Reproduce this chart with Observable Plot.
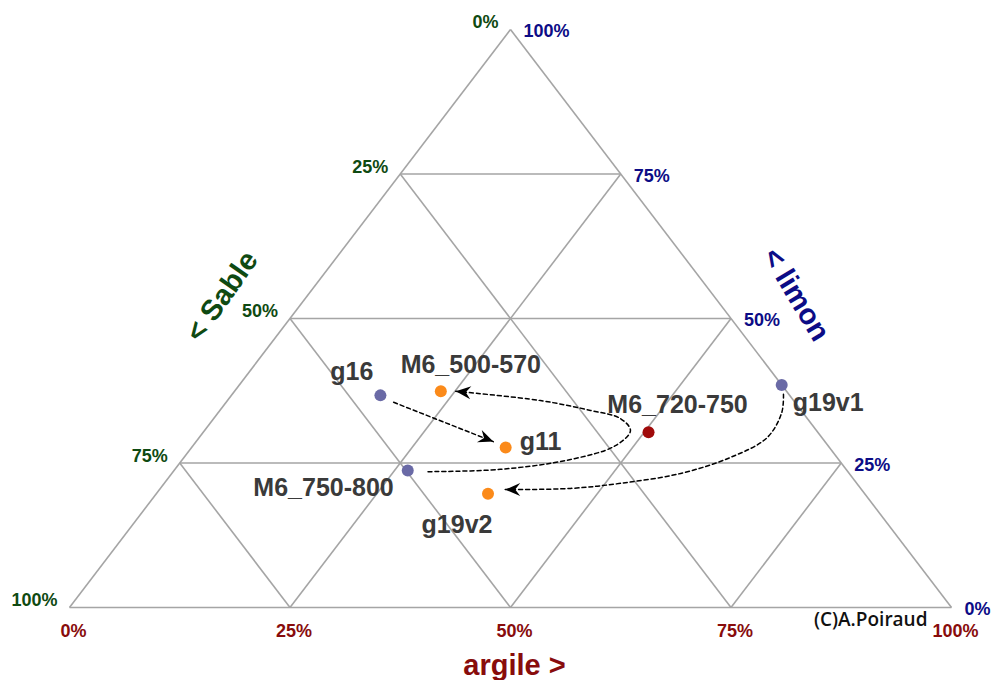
<!DOCTYPE html>
<html>
<head>
<meta charset="utf-8">
<script src="https://cdn.jsdelivr.net/npm/d3@7"></script>
<script src="https://cdn.jsdelivr.net/npm/@observablehq/plot@0.6"></script>
<style>
  html, body { margin: 0; padding: 0; background: #fff; }
  #chart svg { display: block; }
</style>
</head>
<body>
<div id="chart"></div>
<script>
// ---- Data (percentages) ----
const samples   = ["g16", "M6_500-570", "g11", "M6_720-750", "g19v1", "M6_750-800", "g19v2"];
const argile    = [16.9, 23.4, 35.6, 50.5, 61.5, 26.5, 37.6];
const limon     = [36.7, 37.4, 27.7, 30.3, 38.5, 23.7, 19.7];
const groupe    = ["départ", "arrivée", "arrivée", "M6_720-750", "départ", "départ", "arrivée"];

const tickValues = [0, 25, 50, 75, 100];

// dashed arrows (way-points in argile / limon %)
const arrowId     = ["a", "a",
                     "b", "b", "b", "b", "b", "b", "b", "b", "b",
                     "c", "c", "c", "c", "c", "c", "c", "c"];
const arrowArgile = [19.0, 33.7,
                     28.9, 36.9, 44.0, 47.9, 48.3, 46.1, 42.0, 35.5, 25.1,
                     62.5, 63.9, 64.4, 62.0, 57.7, 51.8, 46.5, 39.2];
const arrowLimon  = [35.5, 28.7,
                     23.5, 23.9, 25.6, 28.0, 30.6, 32.7, 34.1, 35.8, 37.4,
                     36.9, 33.7, 29.4, 26.0, 23.2, 21.5, 20.6, 20.4];

// ---- Layout / styles ----
const green = "#0f4a12", blue = "#0c0c86", red = "#880c0c";
const labelPlacement = {
  "g16":        {anchor: "end",    dx: -7,  dy: -15},
  "M6_500-570": {anchor: "middle", dx: 30,  dy: -18},
  "g11":        {anchor: "start",  dx: 14,  dy: 3},
  "M6_720-750": {anchor: "middle", dx: 29,  dy: -19},
  "g19v1":      {anchor: "start",  dx: 11,  dy: 26},
  "M6_750-800": {anchor: "end",    dx: -14, dy: 25},
  "g19v2":      {anchor: "middle", dx: -31, dy: 39}
};

// ---- Build tables ----
const X = (a, l) => (a + l / 2) / 100;
const Y = (a, l) => l / 100;

const points = samples.map((name, i) => ({name, a: argile[i], l: limon[i], g: groupe[i]}));
const arrows = arrowId.map((id, i) => ({id, a: arrowArgile[i], l: arrowLimon[i]}));

const grid = [];
for (const t of tickValues.filter(t => t < 100)) {
  grid.push({a1: 0, l1: t, a2: 100 - t, l2: t});       // constant limon
  grid.push({a1: t, l1: 0, a2: t, l2: 100 - t});       // constant argile
  grid.push({a1: 100 - t, l1: 0, a2: 0, l2: 100 - t}); // constant sable
}

const sableTicks  = tickValues.map(s => ({a: 0, l: 100 - s, text: s + "%"}));
const limonTicks  = tickValues.map(v => ({a: 100 - v, l: v, text: v + "%"}));
const argileTicks = tickValues.map(v => ({a: v, l: 0, text: v + "%"}));

function arrowHead(color, context) {
  const doc = context && context.document ? context.document : document;
  const m = doc.createElementNS("http://www.w3.org/2000/svg", "marker");
  m.setAttribute("viewBox", "-16 -8 18 16");
  m.setAttribute("markerWidth", 18);
  m.setAttribute("markerHeight", 16);
  m.setAttribute("markerUnits", "userSpaceOnUse");
  m.setAttribute("refX", 0);
  m.setAttribute("refY", 0);
  m.setAttribute("orient", "auto");
  const p = doc.createElementNS("http://www.w3.org/2000/svg", "path");
  p.setAttribute("d", "M0,0L-15,-6.5L-10,0L-15,6.5Z");
  p.setAttribute("fill", "#000");
  p.setAttribute("stroke", "none");
  m.appendChild(p);
  return m;
}

const labelMarks = points.map(p => {
  const o = labelPlacement[p.name];
  return Plot.text([p], {
    x: d => X(d.a, d.l), y: d => Y(d.a, d.l), text: "name",
    textAnchor: o.anchor, lineAnchor: "bottom", dx: o.dx, dy: o.dy,
    fontSize: 25, fontWeight: "bold", fill: "#3a3a3a"
  });
});

const chart = Plot.plot({
  width: 994,
  height: 680,
  marginLeft: 69, marginRight: 43, marginTop: 29, marginBottom: 73,
  x: {domain: [0, 1], axis: null},
  y: {domain: [0, 1], axis: null},
  color: {domain: ["départ", "arrivée", "M6_720-750"], range: ["#6a6aa6", "#fb8a1a", "#a00a0a"]},
  style: {fontFamily: "'Liberation Sans', Arial, sans-serif", background: "#fff"},
  marks: [
    Plot.link(grid, {
      x1: d => X(d.a1, d.l1), y1: d => Y(d.a1, d.l1),
      x2: d => X(d.a2, d.l2), y2: d => Y(d.a2, d.l2),
      stroke: "#a5a5a5", strokeWidth: 1.6
    }),
    Plot.line(arrows, {
      x: d => X(d.a, d.l), y: d => Y(d.a, d.l), z: "id",
      curve: "catmull-rom", stroke: "#000", strokeWidth: 1.5,
      strokeDasharray: "4,3", markerEnd: arrowHead
    }),
    Plot.dot(points, {
      x: d => X(d.a, d.l), y: d => Y(d.a, d.l), r: 6,
      fill: "g", stroke: null
    }),
    ...labelMarks,
    Plot.text(sableTicks, {
      x: d => X(d.a, d.l), y: d => Y(d.a, d.l), text: "text",
      textAnchor: "end", dx: -12, dy: -7, fontSize: 18, fontWeight: "bold", fill: green
    }),
    Plot.text(limonTicks, {
      x: d => X(d.a, d.l), y: d => Y(d.a, d.l), text: "text",
      textAnchor: "start", dx: 13, dy: 2, fontSize: 18, fontWeight: "bold", fill: blue
    }),
    Plot.text(argileTicks, {
      x: d => X(d.a, d.l), y: d => Y(d.a, d.l), text: "text",
      textAnchor: "middle", lineAnchor: "bottom", dx: 4, dy: 29, fontSize: 18, fontWeight: "bold", fill: red
    }),
    // axis titles, anchored at the middle of each side
    Plot.text([{a: 0, l: 50}], {
      x: d => X(d.a, d.l), y: d => Y(d.a, d.l), text: () => "< Sable",
      rotate: -55, dx: -68, dy: -22, fontSize: 29, fontWeight: "bold", fill: green
    }),
    Plot.text([{a: 50, l: 50}], {
      x: d => X(d.a, d.l), y: d => Y(d.a, d.l), text: () => "< limon",
      rotate: 59, dx: 65, dy: -24, fontSize: 29, fontWeight: "bold", fill: blue
    }),
    Plot.text([{a: 50, l: 0}], {
      x: d => X(d.a, d.l), y: d => Y(d.a, d.l), text: () => "argile >",
      lineAnchor: "bottom", dx: 4, dy: 67, fontSize: 29, fontWeight: "bold", fill: red
    }),
    Plot.text([{a: 100, l: 0}], {
      x: d => X(d.a, d.l), y: d => Y(d.a, d.l), text: () => "(C)A.Poiraud",
      textAnchor: "end", lineAnchor: "bottom", dx: -24, dy: 18,
      fontSize: 19, fontWeight: 600, fontFamily: "'Open Sans', sans-serif", fill: "#111"
    })
  ]
});

document.getElementById("chart").appendChild(chart);
</script>
</body>
</html>
